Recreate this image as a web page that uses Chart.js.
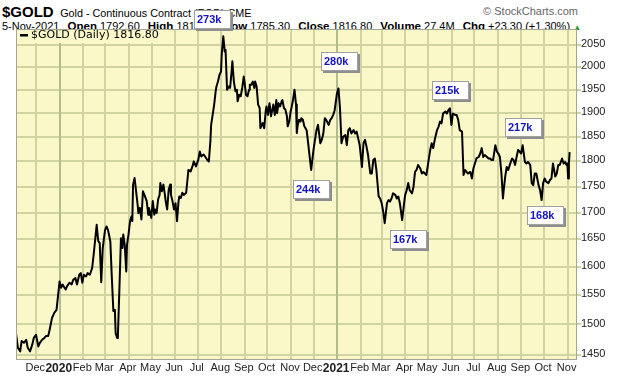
<!DOCTYPE html>
<html>
<head>
<meta charset="utf-8">
<title>$GOLD daily</title>
<script src="https://cdn.jsdelivr.net/npm/chart.js@4.4.0/dist/chart.umd.min.js"></script>
<style>
  html, body { margin: 0; padding: 0; background: #fff; }
  body { position: relative; width: 620px; height: 376px; overflow: hidden; font-family: Arial, "Liberation Sans", sans-serif; color: #000; }
  #hdr1 { position: absolute; left: 2px; top: 3px; line-height: 18px; white-space: nowrap; }
  #hdr1 .sym { font-size: 15px; font-weight: bold; }
  #hdr1 .desc { font-size: 10.8px; margin-left: 2px; }
  #brand { position: absolute; right: 42px; top: 4px; line-height: 14px; font-size: 11px; color: #666; }
  #hdr2 { position: absolute; left: 2px; top: 19px; line-height: 14px; font-size: 11px; white-space: nowrap; }
  #hdr2 b { font-size: 11.5px; margin-left: 5px; }
  #hdr2 .up { color: #2a9a2a; font-size: 8px; }
  #chart { position: absolute; left: 0; top: 0; z-index: 1; }
</style>
</head>
<body>
<div id="hdr1"><span class="sym">$GOLD</span> <span class="desc">Gold - Continuous Contract (EOD) CME</span></div>
<div id="brand">© StockCharts.com</div>
<div id="hdr2">5-Nov-2021 <b>Open</b> 1792.60 <b>High</b> 1817.60 <b>Low</b> 1785.30 <b>Close</b> 1816.80 <b>Volume</b> 27.4M <b>Chg</b> +23.30 (+1.30%) <span class="up">▲</span></div>
<canvas id="chart" width="620" height="376"></canvas>

<script>
/* ------------------------------------------------------------
   Gold continuous contract, daily closes Nov 2019 - Nov 2021
   ------------------------------------------------------------ */

// closes (calendar dates, log price axis)
const dates = [
    '2019-11-05','2019-11-08','2019-11-11','2019-11-13','2019-11-16','2019-11-19','2019-11-21','2019-11-24','2019-11-27','2019-11-29',
    '2019-12-02','2019-12-05','2019-12-07','2019-12-10','2019-12-13','2019-12-15','2019-12-18','2019-12-20','2019-12-23','2019-12-26','2019-12-29',
    '2020-01-02','2020-01-04','2020-01-06','2020-01-10','2020-01-12','2020-01-15','2020-01-18','2020-01-20','2020-01-23','2020-01-25','2020-01-28','2020-01-30',
    '2020-02-01','2020-02-03','2020-02-06','2020-02-08','2020-02-11','2020-02-14','2020-02-16','2020-02-20','2020-02-22','2020-02-24','2020-02-26','2020-02-28',
    '2020-03-02','2020-03-04','2020-03-06','2020-03-09','2020-03-11','2020-03-13','2020-03-15','2020-03-16','2020-03-18','2020-03-19','2020-03-21','2020-03-23','2020-03-25','2020-03-26','2020-03-28','2020-03-30','2020-03-31',
    '2020-04-02','2020-04-04','2020-04-06','2020-04-07','2020-04-08','2020-04-10','2020-04-12','2020-04-14','2020-04-15','2020-04-17','2020-04-19','2020-04-21','2020-04-23','2020-04-26','2020-04-28','2020-04-29',
    '2020-05-02','2020-05-04','2020-05-06','2020-05-07','2020-05-09','2020-05-11','2020-05-13','2020-05-14','2020-05-16','2020-05-18','2020-05-20','2020-05-21','2020-05-23','2020-05-25','2020-05-27','2020-05-28','2020-05-30',
    '2020-06-01','2020-06-03','2020-06-05','2020-06-07','2020-06-08','2020-06-10','2020-06-12','2020-06-14','2020-06-17','2020-06-19','2020-06-20','2020-06-23','2020-06-26','2020-06-27','2020-06-30',
    '2020-07-03','2020-07-05','2020-07-07','2020-07-10','2020-07-12','2020-07-15','2020-07-17','2020-07-19','2020-07-20','2020-07-22','2020-07-24','2020-07-26','2020-07-27','2020-07-29','2020-07-31',
    '2020-08-02','2020-08-03','2020-08-05','2020-08-07','2020-08-08','2020-08-10','2020-08-12','2020-08-14','2020-08-16','2020-08-17','2020-08-19','2020-08-21','2020-08-23','2020-08-24','2020-08-26','2020-08-28','2020-08-30',
    '2020-09-01','2020-09-02','2020-09-04','2020-09-06','2020-09-08','2020-09-09','2020-09-11','2020-09-13','2020-09-15','2020-09-16','2020-09-18','2020-09-20','2020-09-22','2020-09-23','2020-09-24','2020-09-26','2020-09-28','2020-09-30',
    '2020-10-01','2020-10-03','2020-10-05','2020-10-07','2020-10-08','2020-10-10','2020-10-12','2020-10-14','2020-10-15','2020-10-17','2020-10-19','2020-10-21','2020-10-22','2020-10-24','2020-10-26','2020-10-28','2020-10-29','2020-10-31',
    '2020-11-02','2020-11-03','2020-11-05','2020-11-07','2020-11-09','2020-11-10','2020-11-11','2020-11-13','2020-11-15','2020-11-16','2020-11-18','2020-11-20','2020-11-23','2020-11-25','2020-11-27','2020-11-29',
    '2020-12-02','2020-12-04','2020-12-06','2020-12-08','2020-12-11','2020-12-13','2020-12-15','2020-12-17','2020-12-19','2020-12-22','2020-12-24','2020-12-26','2020-12-28','2020-12-30',
    '2021-01-02','2021-01-04','2021-01-06','2021-01-08','2021-01-10','2021-01-13','2021-01-15','2021-01-17','2021-01-19','2021-01-21','2021-01-24','2021-01-26','2021-01-28','2021-01-30',
    '2021-02-01','2021-02-04','2021-02-06','2021-02-08','2021-02-10','2021-02-12','2021-02-15','2021-02-17','2021-02-19','2021-02-21','2021-02-23','2021-02-26','2021-02-28',
    '2021-03-02','2021-03-04','2021-03-06','2021-03-09','2021-03-11','2021-03-13','2021-03-15','2021-03-17','2021-03-20','2021-03-22','2021-03-24','2021-03-26','2021-03-29','2021-03-31',
    '2021-04-02','2021-04-04','2021-04-06','2021-04-08','2021-04-11','2021-04-13','2021-04-15','2021-04-17','2021-04-19','2021-04-22','2021-04-24','2021-04-26','2021-04-28','2021-04-30',
    '2021-05-02','2021-05-05','2021-05-07','2021-05-09','2021-05-11','2021-05-14','2021-05-16','2021-05-18','2021-05-20','2021-05-22','2021-05-25','2021-05-27','2021-05-29','2021-05-31',
    '2021-06-02','2021-06-04','2021-06-07','2021-06-09','2021-06-11','2021-06-13','2021-06-16','2021-06-18','2021-06-20','2021-06-22','2021-06-24','2021-06-27','2021-06-29',
    '2021-07-01','2021-07-03','2021-07-05','2021-07-08','2021-07-10','2021-07-12','2021-07-14','2021-07-16','2021-07-19','2021-07-21','2021-07-23','2021-07-25','2021-07-27','2021-07-30',
    '2021-08-01','2021-08-03','2021-08-05','2021-08-07','2021-08-09','2021-08-10','2021-08-12','2021-08-14','2021-08-16','2021-08-18','2021-08-21','2021-08-23','2021-08-25','2021-08-27','2021-08-29','2021-08-31',
    '2021-09-02','2021-09-04','2021-09-07','2021-09-09','2021-09-11','2021-09-14','2021-09-16','2021-09-18','2021-09-20','2021-09-22','2021-09-25','2021-09-27','2021-09-29',
    '2021-10-01','2021-10-03','2021-10-05','2021-10-08','2021-10-10','2021-10-12','2021-10-14','2021-10-17','2021-10-19','2021-10-21','2021-10-23','2021-10-26','2021-10-28','2021-10-30',
    '2021-11-01','2021-11-02','2021-11-03','2021-11-04','2021-11-05'
];
const closes = [
    1489,1460,1454,1471,1468,1473,1460,1454,1465,1476,
    1481,1462,1468,1473,1476,1479,1479,1490,1509,1518,1523,
    1572,1561,1567,1558,1564,1570,1567,1575,1578,1567,1584,1587,
    1570,1584,1581,1587,1584,1596,1620,1675,1645,1641,1571,1632,
    1665,1672,1665,1644,1578,1521,1523,1484,1476,1481,1561,1650,1632,1657,1638,1590,1638,
    1657,1682,1691,1682,1752,1765,1739,1713,1697,1707,1685,1739,1732,1720,1694,1707,
    1688,1720,1694,1704,1697,1723,1732,1755,1739,1752,1732,1720,1704,1742,1752,1732,1720,
    1704,1716,1682,1720,1729,1726,1736,1732,1736,1765,1781,1778,1791,1798,1788,
    1801,1818,1808,1812,1808,1801,1798,1839,1873,1894,1916,1945,1955,1966,1981,
    1988,2026,2068,2033,2037,1948,1955,1952,1988,2011,1966,1945,1948,1923,1937,1934,1952,
    1977,1966,1937,1934,1948,1959,1959,1966,1952,1966,1955,1916,1909,1866,1870,1877,1866,1902,
    1912,1894,1919,1891,1891,1916,1894,1926,1898,1919,1912,1923,1926,1909,1905,1891,1870,1880,
    1902,1909,1926,1948,1916,1856,1870,1884,1880,1887,1884,1870,1862,1835,1807,1781,
    1821,1842,1862,1873,1835,1842,1855,1887,1883,1873,1883,1887,1894,1904,
    1940,1951,1908,1835,1848,1852,1831,1862,1866,1855,1862,1855,1859,1845,
    1831,1787,1835,1842,1828,1811,1774,1774,1801,1804,1781,1729,1725,
    1716,1700,1678,1716,1722,1719,1725,1735,1732,1725,1729,1716,1684,1709,
    1732,1741,1755,1741,1735,1748,1777,1781,1791,1784,1774,1777,1774,1771,
    1791,1821,1835,1825,1842,1862,1869,1880,1876,1897,1901,1897,1904,1908,
    1873,1897,1894,1894,1883,1862,1859,1771,1781,1777,1774,1777,1764,
    1784,1794,1804,1807,1814,1825,1807,1811,1807,1804,1804,1801,1801,1831,
    1818,1814,1807,1774,1725,1741,1768,1787,1781,1791,1804,1801,1791,1807,1821,1818,
    1814,1831,1797,1794,1797,1791,1755,1751,1774,1774,1751,1741,1722,
    1755,1764,1758,1755,1761,1764,1794,1768,1774,1791,1791,1804,1794,1797,
    1791,1794,1764,1793.5,1816.8
];

// month grid / axis labels
const monthStarts = [
    '2019-12-01','2020-01-01','2020-02-01','2020-03-01','2020-04-01','2020-05-01','2020-06-01',
    '2020-07-01','2020-08-01','2020-09-01','2020-10-01','2020-11-01','2020-12-01',
    '2021-01-01','2021-02-01','2021-03-01','2021-04-01','2021-05-01','2021-06-01',
    '2021-07-01','2021-08-01','2021-09-01','2021-10-01','2021-11-01'
];
const monthLabels = [
    'Dec','2020','Feb','Mar','Apr','May','Jun','Jul','Aug','Sep','Oct','Nov','Dec',
    '2021','Feb','Mar','Apr','May','Jun','Jul','Aug','Sep','Oct','Nov'
];
const priceTicks = [1450,1500,1550,1600,1650,1700,1750,1800,1850,1900,1950,2000,2050];

// volume call-outs (label, date, price level of the box centre)
const noteLabels = ['273k','280k','244k','167k','215k','217k','168k'];
const noteDates  = ['2020-07-21','2021-01-05','2020-11-29','2021-04-06','2021-05-31','2021-09-04','2021-10-03'];
const notePrices = [2109, 2012, 1743, 1649, 1947, 1869, 1694];

// visible window
const viewStart = '2019-11-05T13:00:00Z';
const viewEnd   = '2021-11-14T17:00:00Z';
const priceMin = 1440, priceMax = 2085;

/* ---------- helpers ---------- */
const ORIGIN = Date.UTC(2019, 10, 1);
const dayNum = s => (Date.parse(s) - ORIGIN) / 864e5;

const BG = 'rgb(250,247,201)';
const GRID = 'rgb(209,211,161)';
const YEAR_GRID = 'rgb(178,189,143)';
const FRAME = 'rgb(165,165,148)';
const FONT = 'Arial, "Liberation Sans", sans-serif';

const tickLabelMap = new Map(monthStarts.map((d, i) => [dayNum(d), monthLabels[i]]));
const isYear = lbl => /^\d{4}$/.test(lbl);

/* ---------- plugins ---------- */

// yellow plot area plus the month / price grid
const plotGrid = {
    id: 'plotGrid',
    beforeDatasetsDraw(chart) {
        const a = chart.chartArea, g = chart.ctx;
        const xs = chart.scales.x, ys = chart.scales.y;
        const w = a.right - a.left, h = a.bottom - a.top;
        g.save();
        g.fillStyle = BG;
        g.fillRect(a.left, a.top, w, h);

        g.fillStyle = GRID;
        priceTicks.forEach(v => {
            const py = Math.round(ys.getPixelForValue(v));
            g.fillRect(a.left, py, w + 4, 2);
        });
        monthStarts.forEach((d, i) => {
            const px = Math.round(xs.getPixelForValue(dayNum(d)));
            g.fillStyle = isYear(monthLabels[i]) ? YEAR_GRID : GRID;
            g.fillRect(px, a.top, 2, h);
        });
        g.restore();
    }
};

const insideLegend = {
    id: 'insideLegend',
    beforeDatasetsDraw(chart) {
        const a = chart.chartArea, g = chart.ctx;
        const ds = chart.data.datasets[0];
        const last = closes[closes.length - 1].toFixed(2);
        const text = ds.label + ' ' + last;
        g.save();
        g.font = '11px "DejaVu Sans", Verdana, sans-serif';
        const w = g.measureText(text).width;
        g.fillStyle = BG;
        g.fillRect(a.left + 2, a.top + 2, w + 17, 12);
        g.fillStyle = '#000';
        g.fillRect(a.left + 4, a.top + 5, 8, 2.5);
        g.textBaseline = 'middle';
        g.fillText(text, a.left + 15, a.top + 6.5);
        g.restore();
    }
};

const frameAndNotes = {
    id: 'frameAndNotes',
    afterDraw(chart) {
        const a = chart.chartArea, g = chart.ctx;
        g.save();
        g.fillStyle = FRAME;
        g.fillRect(a.left, a.top, a.right - a.left, 1);
        g.fillRect(a.left, a.bottom - 1, a.right - a.left, 1);
        g.fillRect(a.left, a.top, 1, a.bottom - a.top);
        g.fillRect(a.right - 1, a.top, 1, a.bottom - a.top);

        g.font = 'bold 11px ' + FONT;
        g.textBaseline = 'middle';
        noteLabels.forEach((lbl, i) => {
            const cx = chart.scales.x.getPixelForValue(dayNum(noteDates[i]));
            const cy = chart.scales.y.getPixelForValue(notePrices[i]);
            const w = 36, h = 18;
            const l = Math.round(cx - w / 2);
            const t = Math.round(cy - h / 2);
            g.fillStyle = '#8e8e8e';
            g.fillRect(l + 2, t + 2, w + 1, h + 1);
            g.fillStyle = '#a0a0a0';
            g.fillRect(l, t, w + 1, h + 1);
            g.fillStyle = '#fff';
            g.fillRect(l + 1, t + 1, w - 1, h - 1);
            g.fillStyle = '#1414c4';
            g.fillText(lbl, l + 3, t + h / 2 + 1);
        });
        g.restore();
    }
};

/* ---------- chart ---------- */
const points = dates.map((d, i) => ({ x: dayNum(d), y: closes[i] }));

new Chart(document.getElementById('chart').getContext('2d'), {
    type: 'line',
    data: {
        datasets: [{
            label: '$GOLD (Daily)',
            data: points,
            borderColor: '#000',
            borderWidth: 2,
            borderJoinStyle: 'round',
            pointRadius: 0,
            tension: 0,
            fill: false
        }]
    },
    options: {
        responsive: false,
        animation: false,
        devicePixelRatio: 1,
        layout: { padding: { left: 16, top: 29, right: 0, bottom: 0 } },
        plugins: {
            legend: { display: false },
            tooltip: { enabled: false }
        },
        scales: {
            x: {
                type: 'linear',
                min: dayNum(viewStart),
                max: dayNum(viewEnd),
                afterBuildTicks: s => { s.ticks = monthStarts.map(d => ({ value: dayNum(d) })); },
                afterFit: s => { s.height = 16; },
                border: { display: false },
                grid: { display: false, drawTicks: false },
                ticks: {
                    autoSkip: false,
                    maxRotation: 0,
                    minRotation: 0,
                    padding: 1,
                    color: '#222',
                    font: c => (c.tick && isYear(c.tick.label))
                        ? { family: FONT, size: 12, weight: 'bold' }
                        : { family: FONT, size: 11 },
                    callback: v => tickLabelMap.get(v) || ''
                }
            },
            y: {
                type: 'logarithmic',
                position: 'right',
                min: priceMin,
                max: priceMax,
                afterBuildTicks: s => { s.ticks = priceTicks.map(v => ({ value: v })); },
                afterFit: s => { s.width = 43; },
                border: { display: false },
                grid: { display: false, drawTicks: false },
                ticks: {
                    autoSkip: false,
                    padding: 4,
                    color: '#222',
                    font: { family: FONT, size: 11 },
                    callback: v => String(v)
                }
            }
        }
    },
    plugins: [plotGrid, insideLegend, frameAndNotes]
});
</script>
</body>
</html>
